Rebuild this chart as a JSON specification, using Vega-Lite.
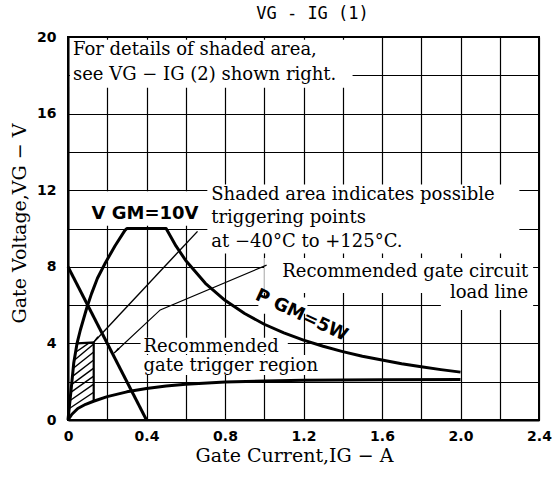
{
  "$schema": "https://vega.github.io/schema/vega-lite/v6.json",
  "width": 471,
  "height": 383,
  "autosize": {"type": "none"},
  "padding": {"left": 68, "top": 37, "right": 13, "bottom": 60},
  "background": "white",
  "config": {"view": {"stroke": "black", "strokeWidth": 2}},
  "title": {"text": "VG - IG (1)", "font": "DejaVu Sans Mono", "fontSize": 17, "fontWeight": "normal", "color": "black", "offset": 7, "dx": 9},
  "datasets": {
    "boxes": [
      {"I": 0.01, "I2": 1.45, "V": 17.35, "V2": 19.85},
      {"I": 0.71, "I2": 2.3, "V": 8.7, "V2": 12.3},
      {"I": 1.0, "I2": 2.37, "V": 6.63, "V2": 8.46},
      {"I": 1.9, "I2": 2.37, "V": 5.75, "V2": 6.7},
      {"I": 0.37, "I2": 1.12, "V": 3.45, "V2": 4.3},
      {"I": 0.37, "I2": 1.34, "V": 2.35, "V2": 3.4},
      {"I": 0.1, "I2": 0.68, "V": 10.15, "V2": 11.95},
      {"I": 0.97, "I2": 1.22, "V": 5.55, "V2": 6.4}
    ],
    "curves": [
      {"s": "upper", "o": 1, "I": 0, "V": 0},
      {"s": "upper", "o": 2, "I": 0.006, "V": 0.6},
      {"s": "upper", "o": 3, "I": 0.012, "V": 1.2},
      {"s": "upper", "o": 4, "I": 0.02, "V": 2.0},
      {"s": "upper", "o": 5, "I": 0.029, "V": 2.96},
      {"s": "upper", "o": 6, "I": 0.046, "V": 4.0},
      {"s": "upper", "o": 7, "I": 0.063, "V": 4.7},
      {"s": "upper", "o": 8, "I": 0.08, "V": 5.3},
      {"s": "upper", "o": 9, "I": 0.097, "V": 5.9},
      {"s": "upper", "o": 10, "I": 0.12, "V": 6.6},
      {"s": "upper", "o": 11, "I": 0.15, "V": 7.4},
      {"s": "upper", "o": 12, "I": 0.19, "V": 8.2},
      {"s": "upper", "o": 13, "I": 0.24, "V": 9.1},
      {"s": "upper", "o": 14, "I": 0.29, "V": 9.9},
      {"s": "upper", "o": 15, "I": 0.3, "V": 10.0},
      {"s": "upper", "o": 16, "I": 0.48, "V": 10.0},
      {"s": "upper", "o": 17, "I": 0.5, "V": 10.0},
      {"s": "upper", "o": 18, "I": 0.55, "V": 9.09},
      {"s": "upper", "o": 19, "I": 0.6, "V": 8.33},
      {"s": "upper", "o": 20, "I": 0.7, "V": 7.14},
      {"s": "upper", "o": 21, "I": 0.8, "V": 6.25},
      {"s": "upper", "o": 22, "I": 0.9, "V": 5.56},
      {"s": "upper", "o": 23, "I": 1.0, "V": 5.0},
      {"s": "upper", "o": 24, "I": 1.1, "V": 4.55},
      {"s": "upper", "o": 25, "I": 1.2, "V": 4.17},
      {"s": "upper", "o": 26, "I": 1.3, "V": 3.85},
      {"s": "upper", "o": 27, "I": 1.4, "V": 3.57},
      {"s": "upper", "o": 28, "I": 1.5, "V": 3.33},
      {"s": "upper", "o": 29, "I": 1.6, "V": 3.13},
      {"s": "upper", "o": 30, "I": 1.7, "V": 2.94},
      {"s": "upper", "o": 31, "I": 1.8, "V": 2.78},
      {"s": "upper", "o": 32, "I": 1.9, "V": 2.63},
      {"s": "upper", "o": 33, "I": 2.0, "V": 2.5},
      {"s": "load", "o": 1, "I": 0, "V": 8},
      {"s": "load", "o": 2, "I": 0.4, "V": 0},
      {"s": "lower", "o": 1, "I": 0, "V": 0},
      {"s": "lower", "o": 2, "I": 0.02, "V": 0.3},
      {"s": "lower", "o": 3, "I": 0.05, "V": 0.6},
      {"s": "lower", "o": 4, "I": 0.09, "V": 0.82},
      {"s": "lower", "o": 5, "I": 0.13, "V": 0.98},
      {"s": "lower", "o": 6, "I": 0.2, "V": 1.22},
      {"s": "lower", "o": 7, "I": 0.3, "V": 1.47},
      {"s": "lower", "o": 8, "I": 0.4, "V": 1.65},
      {"s": "lower", "o": 9, "I": 0.5, "V": 1.78},
      {"s": "lower", "o": 10, "I": 0.6, "V": 1.87},
      {"s": "lower", "o": 11, "I": 0.8, "V": 1.98},
      {"s": "lower", "o": 12, "I": 1.0, "V": 2.04},
      {"s": "lower", "o": 13, "I": 1.2, "V": 2.07},
      {"s": "lower", "o": 14, "I": 1.6, "V": 2.1},
      {"s": "lower", "o": 15, "I": 2.0, "V": 2.12}
    ],
    "border": [
      {"o": 1, "I": 0.047, "V": 4.0},
      {"o": 2, "I": 0.131, "V": 4.05},
      {"o": 3, "I": 0.131, "V": 0.97}
    ],
    "pointerB": [
      {"o": 1, "I": 1.012, "V": 8.09},
      {"o": 2, "I": 0.47, "V": 5.75},
      {"o": 3, "I": 0.235, "V": 3.5}
    ],
    "segments": [
      {"I": 0.66, "V": 9.85, "I2": 0.13, "V2": 4.05},
      {"I": 0.007, "V": 0.6, "I2": 0.131, "V2": 1.45},
      {"I": 0.011, "V": 1.02, "I2": 0.131, "V2": 1.87},
      {"I": 0.014, "V": 1.44, "I2": 0.131, "V2": 2.29},
      {"I": 0.019, "V": 1.86, "I2": 0.131, "V2": 2.71},
      {"I": 0.023, "V": 2.28, "I2": 0.131, "V2": 3.13},
      {"I": 0.027, "V": 2.7, "I2": 0.131, "V2": 3.55},
      {"I": 0.032, "V": 3.12, "I2": 0.131, "V2": 3.97},
      {"I": 0.039, "V": 3.54, "I2": 0.104, "V2": 4.0}
    ],
    "heads": [
      {"I": 0.145, "V": 4.25},
      {"I": 0.25, "V": 3.65}
    ],
    "textLeft": [
      {"I": 0.025, "V": 19.32, "t": "For details of shaded area,"},
      {"I": 0.025, "V": 18.0, "t": "see VG − IG (2) shown right."},
      {"I": 0.73, "V": 11.75, "t": "Shaded area indicates possible"},
      {"I": 0.73, "V": 10.53, "t": "triggering points"},
      {"I": 0.73, "V": 9.31, "t": "at −40°C to +125°C."},
      {"I": 0.385, "V": 3.81, "t": "Recommended"},
      {"I": 0.385, "V": 2.82, "t": "gate trigger region"}
    ],
    "textRight": [
      {"I": 2.345, "V": 7.74, "t": "Recommended gate circuit"},
      {"I": 2.345, "V": 6.62, "t": "load line"}
    ],
    "textVgm": [
      {"I": 0.12, "V": 10.75, "t": "V GM=10V"}
    ],
    "textPgm": [
      {"I": 1.19, "V": 5.45, "t": "P GM=5W"}
    ]
  },
  "encoding": {
    "x": {
      "field": "I", "type": "quantitative",
      "scale": {"domain": [0, 2.4], "nice": false, "zero": false},
      "axis": {
        "values": [0, 0.2, 0.4, 0.6, 0.8, 1, 1.2, 1.4, 1.6, 1.8, 2, 2.2, 2.4],
        "grid": true, "gridColor": "black", "gridOpacity": 1, "gridWidth": 1.2,
        "ticks": false, "domainColor": "black", "domainWidth": 2,
        "labelExpr": "round(datum.value*10)%4==0 ? (datum.value==0 ? '0' : format(datum.value,'.1f')) : ''",
        "labelFont": "DejaVu Sans", "labelFontWeight": "bold", "labelFontSize": 14, "labelColor": "black",
        "labelPadding": 9, "labelOverlap": false, "labelFlush": false, "labelBound": false,
        "title": "Gate Current,IG − A", "titleFont": "DejaVu Serif", "titleFontSize": 19, "titleFontWeight": "normal", "titleColor": "black", "titlePadding": 3, "titleX": 226
      }
    },
    "y": {
      "field": "V", "type": "quantitative",
      "scale": {"domain": [0, 20], "nice": false, "zero": false},
      "axis": {
        "values": [0, 2, 4, 6, 8, 10, 12, 14, 16, 18, 20],
        "grid": true, "gridColor": "black", "gridOpacity": 1, "gridWidth": 1.2,
        "ticks": false, "domainColor": "black", "domainWidth": 2,
        "labelExpr": "datum.value%4==0 ? datum.label : ''",
        "labelFont": "DejaVu Sans", "labelFontWeight": "bold", "labelFontSize": 14, "labelColor": "black",
        "labelPadding": 12, "labelOverlap": false, "labelFlush": false, "labelBound": false,
        "title": "Gate Voltage,VG − V", "titleFont": "DejaVu Serif", "titleFontSize": 19, "titleFontWeight": "normal", "titleColor": "black", "titlePadding": 7, "titleY": 186
      }
    }
  },
  "layer": [
    {
      "data": {"name": "boxes"},
      "mark": {"type": "rect", "fill": "white", "stroke": null},
      "encoding": {"x2": {"field": "I2"}, "y2": {"field": "V2"}}
    },
    {
      "data": {"name": "segments"},
      "mark": {"type": "rule", "color": "black", "strokeWidth": 1.4},
      "encoding": {"x2": {"field": "I2"}, "y2": {"field": "V2"}}
    },
    {
      "data": {"name": "pointerB"},
      "mark": {"type": "line", "color": "black", "strokeWidth": 1.2},
      "encoding": {"order": {"field": "o"}}
    },
    {
      "data": {"name": "border"},
      "mark": {"type": "line", "color": "black", "strokeWidth": 2.2},
      "encoding": {"order": {"field": "o"}}
    },
    {
      "data": {"name": "curves"},
      "mark": {"type": "line", "color": "black", "strokeWidth": 3, "strokeJoin": "round"},
      "encoding": {"detail": {"field": "s"}, "order": {"field": "o"}}
    },
    {
      "data": {"name": "heads"},
      "mark": {"type": "point", "shape": "wedge", "filled": true, "color": "black", "size": 70, "angle": 225, "opacity": 1},
      "encoding": {}
    },
    {
      "data": {"name": "textLeft"},
      "mark": {"type": "text", "font": "DejaVu Serif", "fontSize": 18, "align": "left", "baseline": "middle", "color": "black"},
      "encoding": {"text": {"field": "t"}}
    },
    {
      "data": {"name": "textRight"},
      "mark": {"type": "text", "font": "DejaVu Serif", "fontSize": 18, "align": "right", "baseline": "middle", "color": "black"},
      "encoding": {"text": {"field": "t"}}
    },
    {
      "data": {"name": "textVgm"},
      "mark": {"type": "text", "font": "DejaVu Sans", "fontSize": 18, "fontWeight": "bold", "align": "left", "baseline": "middle", "color": "black"},
      "encoding": {"text": {"field": "t"}}
    },
    {
      "data": {"name": "textPgm"},
      "mark": {"type": "text", "font": "DejaVu Sans", "fontSize": 18, "fontWeight": "bold", "align": "center", "baseline": "middle", "color": "black", "angle": 25},
      "encoding": {"text": {"field": "t"}}
    }
  ]
}
